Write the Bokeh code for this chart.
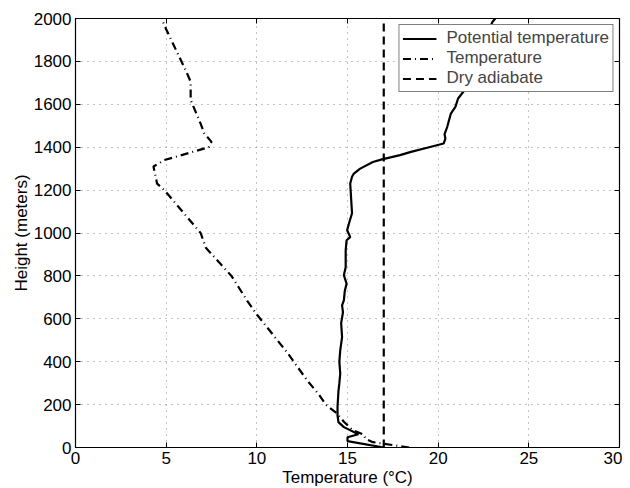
from bokeh.plotting import figure
from bokeh.models import (Range1d, LinearAxis, FixedTicker, Legend, LegendItem,
                          CustomJSTickFormatter)
from bokeh.embed import file_html
from bokeh.resources import INLINE

# Potential temperature profile (deg C) vs height (m)
theta_height = [0, 30, 48, 62, 95, 118, 150, 190, 260, 300, 345, 400, 453, 515, 580, 630,
                663, 686, 730, 764, 803, 840, 873, 920, 966, 981, 1013, 1050, 1092, 1160,
                1231, 1262, 1277, 1300, 1331, 1343, 1363, 1378, 1400, 1417, 1440, 1460,
                1495, 1557, 1588, 1627, 1682, 1750, 1850, 1930, 1985, 2000]
theta_temp = [17.0, 15.0, 15.0, 15.6, 14.8, 14.5, 14.45, 14.45, 14.5, 14.55, 14.6, 14.55,
              14.6, 14.7, 14.65, 14.75, 14.7, 14.8, 14.85, 14.95, 14.8, 14.9, 14.9, 14.9,
              14.95, 15.15, 14.98, 15.1, 15.25, 15.2, 15.15, 15.25, 15.35, 15.7, 16.4,
              16.9, 17.9, 18.5, 19.5, 20.3, 20.4, 20.35, 20.5, 20.7, 20.95, 21.1, 21.6,
              22.0, 22.4, 22.7, 23.0, 23.15]

# Temperature profile (deg C) vs height (m)
temp_height = [0, 10, 25, 40, 60, 80, 120, 160, 200, 250, 310, 440, 620, 680, 800, 930,
               1000, 1200, 1230, 1310, 1340, 1400, 1425, 1465, 1510, 1620, 1705, 1745,
               1950, 1993, 2000]
temp_values = [18.4, 17.6, 16.4, 16.0, 15.9, 15.3, 14.8, 14.4, 13.8, 13.4, 12.8, 11.7,
               10.0, 9.5, 8.6, 7.2, 6.9, 4.9, 4.5, 4.3, 4.9, 7.35, 7.5, 7.1, 6.9, 6.35,
               6.35, 6.15, 5.0, 4.78, 4.75]

# Dry adiabat
adiabat_height = [0, 2000]
adiabat_temp = [17.0, 17.0]

x_ticks = [0, 5, 10, 15, 20, 25, 30]
y_ticks = [0, 200, 400, 600, 800, 1000, 1200, 1400, 1600, 1800, 2000]

FONT = "Liberation Sans"
FS = "17px"

p = figure(output_backend="svg", toolbar_location=None,
           x_range=Range1d(0, 30), y_range=Range1d(0, 2000),
           frame_width=544, frame_height=429,
           min_border_left=75, min_border_top=18, min_border_right=3, min_border_bottom=40,
           background_fill_color="white", border_fill_color="white")

p.outline_line_color = "black"
p.outline_line_width = 1.2

for ax, ticks in ((p.xaxis[0], x_ticks), (p.yaxis[0], y_ticks)):
    ax.ticker = FixedTicker(ticks=ticks)
    ax.major_tick_in = 5
    ax.major_tick_out = 0
    ax.minor_tick_line_color = None
    ax.major_label_text_font = FONT
    ax.major_label_text_font_size = FS
    ax.major_label_text_color = "black"
    ax.axis_label_text_font = FONT
    ax.axis_label_text_font_size = FS
    ax.axis_label_text_font_style = "normal"
    ax.axis_label_text_color = "black"
    ax.axis_line_color = "black"
    ax.major_tick_line_color = "black"

p.xaxis.axis_label = "Temperature (°C)"
p.yaxis.axis_label = "Height (meters)"
p.xaxis.major_label_standoff = 4
p.xaxis.axis_label_standoff = 1
p.yaxis.major_label_standoff = 4
p.yaxis.axis_label_standoff = 0

# Mirror ticks on the top and right (no labels)
blank = CustomJSTickFormatter(code="return ''")
top_ax = LinearAxis(ticker=FixedTicker(ticks=x_ticks), formatter=blank,
                    major_tick_in=5, major_tick_out=0, minor_tick_line_color=None,
                    major_label_standoff=0, axis_line_color="black")
right_ax = LinearAxis(ticker=FixedTicker(ticks=y_ticks), formatter=blank,
                      major_tick_in=5, major_tick_out=0, minor_tick_line_color=None,
                      major_label_standoff=0, axis_line_color="black")
p.add_layout(top_ax, "above")
p.add_layout(right_ax, "right")

p.xgrid.ticker = FixedTicker(ticks=x_ticks)
p.ygrid.ticker = FixedTicker(ticks=y_ticks)
for g in (p.xgrid[0], p.ygrid[0]):
    g.grid_line_color = "#888888"
    g.grid_line_dash = "1 5"
    g.grid_line_width = 1

r_theta = p.line(theta_temp, theta_height, line_color="black", line_width=2.2)
r_temp = p.line(temp_values, temp_height, line_color="black", line_width=2.2,
                line_dash="8 4 1 4")
r_adi = p.line(adiabat_temp, adiabat_height, line_color="black", line_width=2.2,
               line_dash="8 5")

legend = Legend(items=[LegendItem(label="Potential temperature", renderers=[r_theta]),
                       LegendItem(label="Temperature", renderers=[r_temp]),
                       LegendItem(label="Dry adiabate", renderers=[r_adi])],
                location="top_right")
legend.margin = 6
legend.padding = 3
legend.spacing = 0
legend.label_height = 17
legend.glyph_height = 17
legend.glyph_width = 34
legend.label_standoff = 10
legend.label_text_font = FONT
legend.label_text_font_size = FS
legend.border_line_color = "black"
legend.border_line_width = 1
legend.background_fill_color = "white"
legend.background_fill_alpha = 1.0
p.add_layout(legend)

open("out.html", "w").write(file_html(p, INLINE))
